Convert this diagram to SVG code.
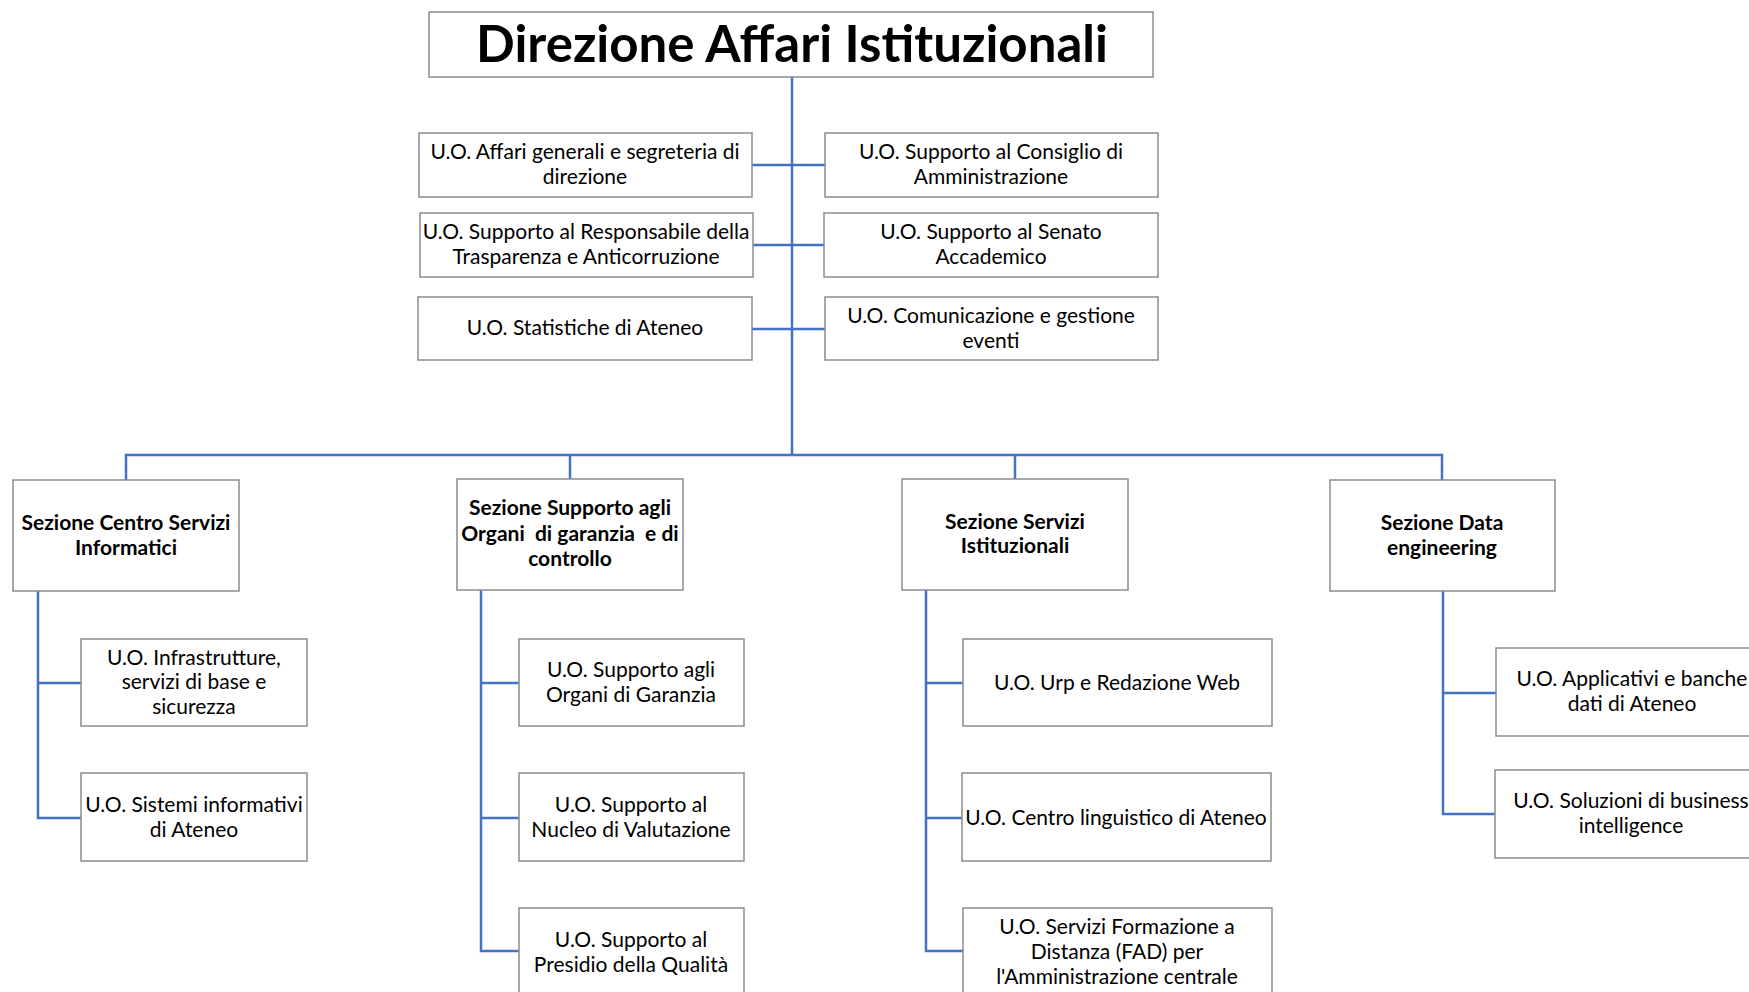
<svg xmlns="http://www.w3.org/2000/svg" width="1749" height="992" viewBox="0 0 1749 992">
<style>
.box{fill:#fff;stroke:#8c8c8c;stroke-width:1.5}
.t{font-family:Lato,"Open Sans",sans-serif;font-size:21px;fill:#000;text-anchor:middle}
.b{font-family:Lato,"Open Sans",sans-serif;font-size:21px;font-weight:bold;fill:#000;text-anchor:middle}
.title{font-family:Lato,"Open Sans",sans-serif;font-size:51px;font-weight:bold;fill:#000;text-anchor:middle}
.c{fill:none;stroke:#4472c4;stroke-width:2.5}
</style>
<rect width="1749" height="992" fill="#fff"/>
<g id="connectors">
<path class="c" d="M792 77V455"/>
<path class="c" d="M752 165H825M752 245H825M752 329H825"/>
<path class="c" d="M126 480V455H1442V480M570 455V479M1015 455V479"/>
<path class="c" d="M38 591V818H81M38 683H81"/>
<path class="c" d="M481 590V951H519M481 683H519M481 818H519"/>
<path class="c" d="M926 590V951H963M926 683H963M926 818H962"/>
<path class="c" d="M1443 591V814H1495M1443 693H1496"/>
</g>
<g id="n-title"><rect class="box" x="429" y="12" width="724" height="65"/><text class="title" x="792" y="62">Direzione Affari Istituzionali</text></g>
<g id="n-l1"><rect class="box" x="419" y="133" width="333" height="64"/><text class="t" x="585" y="159">U.O. Affari generali e segreteria di</text><text class="t" x="585" y="184">direzione</text></g>
<g id="n-l2"><rect class="box" x="420" y="213" width="333" height="64"/><text class="t" x="586" y="239">U.O. Supporto al Responsabile della</text><text class="t" x="586" y="264">Trasparenza e Anticorruzione</text></g>
<g id="n-l3"><rect class="box" x="418" y="297" width="334" height="63"/><text class="t" x="585" y="335">U.O. Statistiche di Ateneo</text></g>
<g id="n-r1"><rect class="box" x="825" y="133" width="333" height="64"/><text class="t" x="991" y="159">U.O. Supporto al Consiglio di</text><text class="t" x="991" y="184">Amministrazione</text></g>
<g id="n-r2"><rect class="box" x="824" y="213" width="334" height="64"/><text class="t" x="991" y="239">U.O. Supporto al Senato</text><text class="t" x="991" y="264">Accademico</text></g>
<g id="n-r3"><rect class="box" x="825" y="297" width="333" height="63"/><text class="t" x="991" y="323">U.O. Comunicazione e gestione</text><text class="t" x="991" y="348">eventi</text></g>
<g id="n-s1"><rect class="box" x="13" y="480" width="226" height="111"/><text class="b" x="126" y="530">Sezione Centro Servizi</text><text class="b" x="126" y="555">Informatici</text></g>
<g id="n-s2"><rect class="box" x="457" y="479" width="226" height="111"/><text class="b" x="570" y="515">Sezione Supporto agli</text><text class="b" x="570" y="541" xml:space="preserve">Organi  di garanzia  e di</text><text class="b" x="570" y="566">controllo</text></g>
<g id="n-s3"><rect class="box" x="902" y="479" width="226" height="111"/><text class="b" x="1015" y="529">Sezione Servizi</text><text class="b" x="1015" y="553">Istituzionali</text></g>
<g id="n-s4"><rect class="box" x="1330" y="480" width="225" height="111"/><text class="b" x="1442" y="530">Sezione Data</text><text class="b" x="1442" y="555">engineering</text></g>
<g id="n-s1a"><rect class="box" x="81" y="639" width="226" height="87"/><text class="t" x="194" y="665">U.O. Infrastrutture,</text><text class="t" x="194" y="689">servizi di base e</text><text class="t" x="194" y="714">sicurezza</text></g>
<g id="n-s1b"><rect class="box" x="81" y="773" width="226" height="88"/><text class="t" x="194" y="812">U.O. Sistemi informativi</text><text class="t" x="194" y="837">di Ateneo</text></g>
<g id="n-s2a"><rect class="box" x="519" y="639" width="225" height="87"/><text class="t" x="631" y="677">U.O. Supporto agli</text><text class="t" x="631" y="702">Organi di Garanzia</text></g>
<g id="n-s2b"><rect class="box" x="519" y="773" width="225" height="88"/><text class="t" x="631" y="812">U.O. Supporto al</text><text class="t" x="631" y="837">Nucleo di Valutazione</text></g>
<g id="n-s2c"><rect class="box" x="519" y="908" width="225" height="100"/><text class="t" x="631" y="947">U.O. Supporto al</text><text class="t" x="631" y="972">Presidio della Qualità</text></g>
<g id="n-s3a"><rect class="box" x="963" y="639" width="309" height="87"/><text class="t" x="1117" y="690">U.O. Urp e Redazione Web</text></g>
<g id="n-s3b"><rect class="box" x="962" y="773" width="309" height="88"/><text class="t" x="1116" y="825">U.O. Centro linguistico di Ateneo</text></g>
<g id="n-s3c"><rect class="box" x="963" y="908" width="309" height="100"/><text class="t" x="1117" y="934">U.O. Servizi Formazione a</text><text class="t" x="1117" y="959">Distanza (FAD) per</text><text class="t" x="1117" y="984">l'Amministrazione centrale</text></g>
<g id="n-s4a"><rect class="box" x="1496" y="648" width="272" height="88"/><text class="t" x="1632" y="686">U.O. Applicativi e banche</text><text class="t" x="1632" y="711">dati di Ateneo</text></g>
<g id="n-s4b"><rect class="box" x="1495" y="770" width="272" height="88"/><text class="t" x="1631" y="808">U.O. Soluzioni di business</text><text class="t" x="1631" y="833">intelligence</text></g>
</svg>
